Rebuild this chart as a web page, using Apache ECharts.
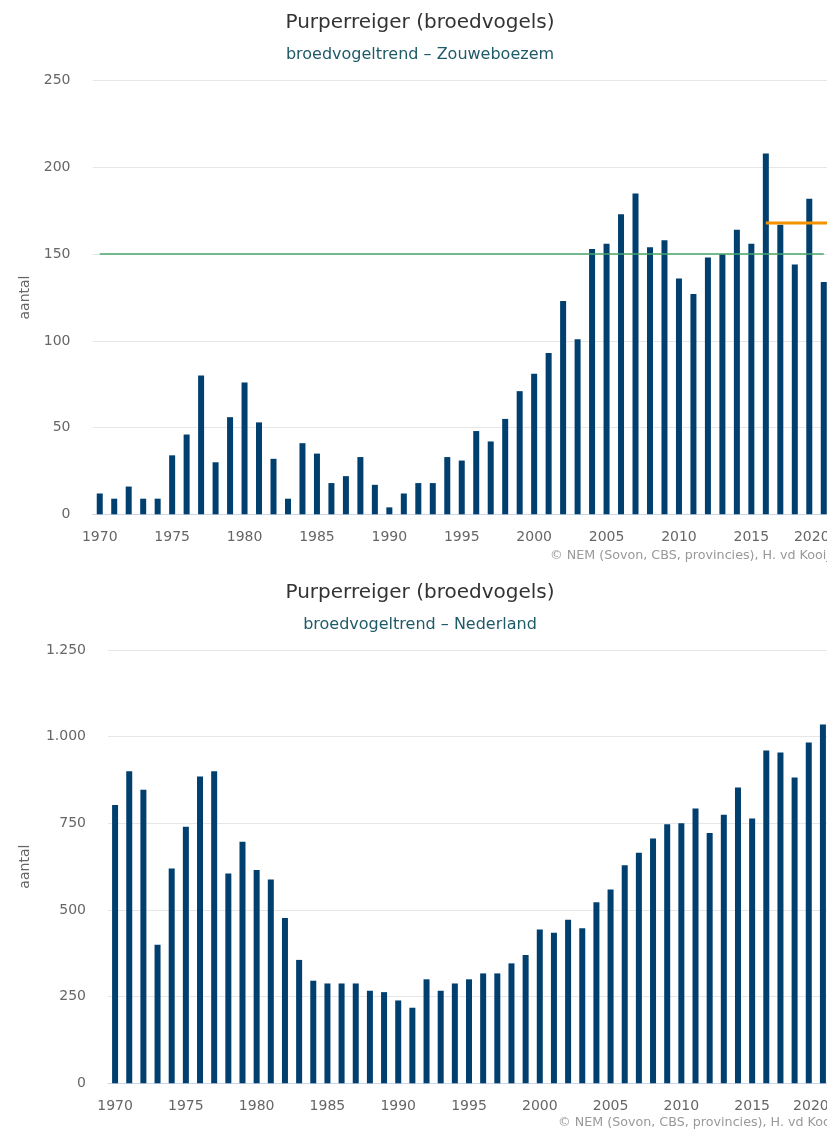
<!DOCTYPE html>
<html>
<head>
<meta charset="utf-8">
<script src="https://cdn.jsdelivr.net/npm/echarts@6/dist/echarts.min.js"></script>
<style>
html,body{margin:0;padding:0;background:#fff;overflow:hidden;}
#c{width:840px;height:1129px;}
</style>
</head>
<body>
<div id="c"></div>
<script>
const years = ['1970','1971','1972','1973','1974','1975','1976','1977','1978','1979',
  '1980','1981','1982','1983','1984','1985','1986','1987','1988','1989',
  '1990','1991','1992','1993','1994','1995','1996','1997','1998','1999',
  '2000','2001','2002','2003','2004','2005','2006','2007','2008','2009',
  '2010','2011','2012','2013','2014','2015','2016','2017','2018','2019','2020'];

const zouweboezem = [12,9,16,9,9,34,46,80,30,56,
  76,53,32,9,41,35,18,22,33,17,
  4,12,18,18,33,31,48,42,55,71,
  81,93,123,101,153,156,173,185,154,158,
  136,127,148,150,164,156,208,167,144,182,134];

const nederland = [803,900,847,400,620,740,885,900,605,697,
  615,588,477,356,296,288,288,288,267,263,
  239,218,300,267,288,300,317,317,346,370,
  444,434,472,447,522,559,629,665,706,747,
  750,793,722,775,853,764,960,954,882,983,1035];

const zouweTarget = 150;                       // green reference line
const recentLine = [[2016, 168], [2020.5, 168]]; // orange level line (year, aantal)
const yearRange = [1969.5, 2020.5];            // plot edges in years

const mainTitle = 'Purperreiger (broedvogels)';
const subTop = 'broedvogeltrend \u2013 Zouweboezem';
const subBottom = 'broedvogeltrend \u2013 Nederland';
const credit = '\u00a9 NEM (Sovon, CBS, provincies), H. vd Kooij';
const yName = 'aantal';

const FONT = 'DejaVu Sans';
const fmt = v => String(v).replace(/\B(?=(\d{3})+(?!\d))/g, '.');
const lastYear = years[years.length - 1];

function xAxis(gi){
  return {
    type:'category', gridIndex:gi, data:years, boundaryGap:true,
    axisLine:{lineStyle:{color:'#ccd6eb',width:1}},
    axisTick:{alignWithLabel:true, interval:4, length:13, lineStyle:{color:'#ccd6eb'}},
    axisLabel:{
      interval:4, color:'#666', fontFamily:FONT, fontSize:14, margin:16,
      formatter: v => v === lastYear ? '{e|' + v + '}' : v,
      rich:{e:{color:'#666', fontFamily:FONT, fontSize:14, padding:[0,24,0,0]}}
    },
    splitLine:{show:false}
  };
}
function yAxis(gi, max, interval, gap){
  return {
    type:'value', gridIndex:gi, min:0, max:max, interval:interval,
    name:yName, nameLocation:'middle', nameGap:gap, nameRotate:90,
    nameTextStyle:{color:'#666', fontFamily:FONT, fontSize:14},
    axisLine:{show:false}, axisTick:{show:false},
    axisLabel:{color:'#666', fontFamily:FONT, fontSize:14, margin:22, formatter:fmt},
    splitLine:{lineStyle:{color:'#e6e6e6',width:1}}
  };
}

const chart = echarts.init(document.getElementById('c'), null, {renderer:'canvas'});
chart.setOption({
  animation:false,
  backgroundColor:'#fff',
  title:[
    {text:mainTitle, left:'center', top:8, textStyle:{color:'#333', fontFamily:FONT, fontSize:20, fontWeight:'normal'}},
    {text:subTop, left:'center', top:42, textStyle:{color:'#1f5a68', fontFamily:FONT, fontSize:16, fontWeight:'normal'}},
    {text:mainTitle, left:'center', top:578, textStyle:{color:'#333', fontFamily:FONT, fontSize:20, fontWeight:'normal'}},
    {text:subBottom, left:'center', top:612, textStyle:{color:'#1f5a68', fontFamily:FONT, fontSize:16, fontWeight:'normal'}}
  ],
  graphic:[
    {type:'text', left:550, top:549, style:{text:credit, fill:'#999', font:'12.7px "DejaVu Sans"'}},
    {type:'text', left:558, top:1116, style:{text:credit, fill:'#999', font:'12.7px "DejaVu Sans"'}}
  ],
  grid:[
    {left:92.5, right:9, top:80.7, height:433.6},
    {left:108, right:10, top:650, height:433.3}
  ],
  xAxis:[xAxis(0), xAxis(1),
    {type:'value', gridIndex:0, min:yearRange[0], max:yearRange[1], show:false}],
  yAxis:[yAxis(0,250,50,60), yAxis(1,1250,250,76)],
  series:[
    {
      type:'bar', xAxisIndex:0, yAxisIndex:0, data:zouweboezem, barWidth:6,
      itemStyle:{color:'#003f6e'},
      markLine:{
        silent:true, symbol:'none', label:{show:false},
        data:[
          [{xAxis:years[0], yAxis:zouweTarget, lineStyle:{color:'#4aa46c', width:1.5, type:'solid'}},
           {xAxis:lastYear, yAxis:zouweTarget}]
        ]
      }
    },
    {
      type:'line', xAxisIndex:2, yAxisIndex:0, data:recentLine, symbol:'none', silent:true,
      lineStyle:{color:'#f39200', width:3}, z:5
    },
    {
      type:'bar', xAxisIndex:1, yAxisIndex:1, data:nederland, barWidth:6,
      itemStyle:{color:'#003f6e'}
    }
  ]
});
</script>
</body>
</html>
